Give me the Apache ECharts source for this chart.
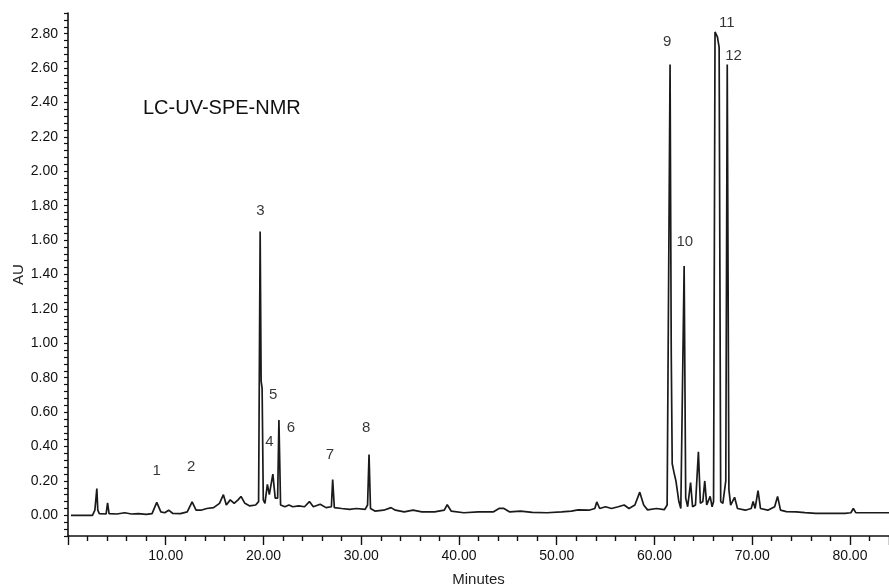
<!DOCTYPE html>
<html>
<head>
    <meta charset="utf-8">
    <title>LC-UV-SPE-NMR</title>
    <script src="https://cdn.jsdelivr.net/npm/echarts@6/dist/echarts.min.js"></script>
    <style>
        html, body { margin: 0; padding: 0; background: #fff; }
        #main { width: 889px; height: 587px; }
    </style>
</head>
<body>
<div id="main"></div>
<script>
    // retention time (min) and absorbance (AU)
    var times = [
        0.3, 2.5, 2.75, 2.9, 2.95, 3.05, 3.2, 3.9, 4.05, 4.2, 5.0, 5.8, 6.5, 7.2, 8.0, 8.6,
        9.08, 9.5, 9.9, 10.3, 10.7, 11.5, 12.2, 12.7, 13.1, 13.6, 14.2, 14.9, 15.5, 15.9,
        16.2, 16.6, 17.0, 17.4, 17.7, 18.1, 18.6, 19.2, 19.5, 19.66, 19.76, 19.86, 19.98,
        20.15, 20.4, 20.6, 20.96, 21.2, 21.45, 21.58, 21.75, 22.2, 22.6, 23.0, 23.6, 24.2,
        24.7, 25.1, 25.8, 26.4, 26.95, 27.08, 27.25, 28.0, 28.8, 29.5, 30.4, 30.65, 30.8,
        30.95, 31.4, 32.3, 33.05, 33.5, 34.4, 35.3, 36.2, 37.5, 38.5, 38.8, 39.2, 40.5,
        42.0, 43.5, 44.1, 44.6, 45.2, 46.3, 47.5, 49.0, 50.5, 51.5, 52.2, 53.3, 53.9, 54.1,
        54.4, 55.0, 55.6, 56.3, 56.9, 57.4, 58.0, 58.5, 58.9, 59.3, 60.2, 61.0, 61.3, 61.6,
        61.72, 61.82, 62.0, 62.2, 62.5, 62.7, 62.85, 63.04, 63.2, 63.4, 63.7, 63.9, 64.2,
        64.5, 64.7, 64.95, 65.15, 65.35, 65.7, 65.9, 66.05, 66.2, 66.45, 66.62, 66.78, 67.0,
        67.3, 67.45, 67.62, 67.8, 68.2, 68.5, 69.3, 69.9, 70.1, 70.3, 70.6, 70.85, 71.6,
        72.3, 72.6, 72.9, 73.5, 74.5, 75.4, 76.5, 78.0, 79.5, 80.1, 80.35, 80.6, 82.0, 84.0
    ];
    var absorbance = [
        0.0, 0.0, 0.03, 0.04, 0.156, 0.03, 0.01, 0.008, 0.072, 0.01, 0.008, 0.015, 0.008, 0.01, 0.006, 0.01,
        0.075, 0.02, 0.015, 0.03, 0.012, 0.01, 0.02, 0.078, 0.03, 0.03, 0.04, 0.045, 0.07, 0.12,
        0.06, 0.09, 0.07, 0.09, 0.11, 0.07, 0.055, 0.06, 0.08, 1.65, 0.78, 0.74, 0.09,
        0.07, 0.18, 0.12, 0.24, 0.1, 0.1, 0.554, 0.06, 0.05, 0.06, 0.05, 0.055, 0.05,
        0.08, 0.05, 0.065, 0.045, 0.05, 0.208, 0.045, 0.04, 0.035, 0.04, 0.035, 0.06, 0.354,
        0.04, 0.025, 0.03, 0.045, 0.03, 0.02, 0.03, 0.02, 0.02, 0.03, 0.062, 0.025, 0.015,
        0.02, 0.02, 0.04, 0.04, 0.02, 0.025, 0.017, 0.015, 0.02, 0.025, 0.032, 0.03, 0.04, 0.078,
        0.04, 0.05, 0.04, 0.05, 0.06, 0.04, 0.06, 0.135, 0.06, 0.032, 0.04, 0.033, 0.06, 2.62,
        0.95, 0.3, 0.25, 0.2, 0.08, 0.04, 0.05, 1.45, 0.1, 0.05, 0.19, 0.05, 0.06,
        0.37, 0.07, 0.08, 0.2, 0.06, 0.11, 0.05, 0.08, 2.81, 2.78, 2.72, 0.08, 0.07,
        0.2, 2.62, 0.15, 0.06, 0.105, 0.04, 0.03, 0.04, 0.08, 0.04, 0.144, 0.04, 0.03,
        0.05, 0.11, 0.03, 0.022, 0.02, 0.016, 0.012, 0.012, 0.012, 0.015, 0.04, 0.016, 0.015, 0.015
    ];

    // peak numbers and where they sit (min, AU)
    var peakNames = ['1', '2', '3', '4', '5', '6', '7', '8', '9', '10', '11', '12'];
    var peakTimes = [9.08, 12.6, 19.7, 20.6, 21.0, 22.8, 26.8, 30.5, 61.3, 63.1, 67.4, 68.1];
    var peakLabelAU = [0.26, 0.28, 1.77, 0.43, 0.70, 0.51, 0.35, 0.51, 2.75, 1.59, 2.86, 2.67];

    var xMin = 0, xMax = 84, xStep = 10;
    var yMin = -0.12, yMax = 2.92, yStep = 0.04, yLabelStep = 0.2;

    var trace = times.map(function (t, i) { return [t, absorbance[i]]; });
    var peaks = peakNames.map(function (n, i) { return {name: n, value: [peakTimes[i], peakLabelAU[i]]}; });

    var fontFamily = 'Liberation Sans, Arial, sans-serif';
    var myChart = echarts.init(document.getElementById('main'));
    myChart.setOption({
        animation: false,
        backgroundColor: '#fff',
        grid: {left: 68, right: 0, top: 13, bottom: 51, containLabel: false, outerBoundsMode: 'none'},
        graphic: [{
            type: 'text',
            left: 143,
            top: 98,
            style: {text: 'LC-UV-SPE-NMR', fontSize: 20, fontFamily: fontFamily, fill: '#111'}
        }],
        xAxis: {
            type: 'value',
            min: xMin,
            max: xMax,
            interval: xStep,
            name: 'Minutes',
            nameLocation: 'middle',
            nameGap: 36,
            nameMoveOverlap: false,
            nameTextStyle: {fontSize: 15, fontFamily: fontFamily, color: '#222'},
            axisLine: {onZero: false, lineStyle: {color: '#111', width: 1.6}},
            axisTick: {length: 9, lineStyle: {color: '#111', width: 1.4}},
            minorTick: {show: true, splitNumber: 5, length: 5, lineStyle: {color: '#111', width: 1.4}},
            splitLine: {show: false},
            axisLabel: {
                margin: 13,
                fontSize: 14,
                fontFamily: fontFamily,
                color: '#111',
                showMaxLabel: false,
                formatter: function (v) { return v === 0 ? '' : v.toFixed(2); }
            }
        },
        yAxis: {
            type: 'value',
            min: yMin,
            max: yMax,
            interval: yStep,
            name: 'AU',
            nameLocation: 'middle',
            nameGap: 42,
            nameMoveOverlap: false,
            nameTextStyle: {fontSize: 15, fontFamily: fontFamily, color: '#222'},
            axisLine: {onZero: false, lineStyle: {color: '#111', width: 1.6}},
            axisTick: {length: 4, lineStyle: {color: '#111', width: 1.2}},
            splitLine: {show: false},
            axisLabel: {
                margin: 10,
                fontSize: 14,
                fontFamily: fontFamily,
                color: '#111',
                formatter: function (v) {
                    var k = v / yLabelStep;
                    if (Math.abs(k - Math.round(k)) > 1e-6) return '';
                    return (Math.round(k) * yLabelStep).toFixed(2);
                }
            }
        },
        series: [
            {
                name: 'UV',
                type: 'line',
                data: trace,
                showSymbol: false,
                sampling: 'none',
                lineStyle: {color: '#1a1a1a', width: 1.7},
                z: 3
            },
            {
                name: 'peaks',
                type: 'scatter',
                data: peaks,
                symbolSize: 1,
                itemStyle: {color: 'rgba(0,0,0,0)'},
                label: {
                    show: true,
                    position: 'inside',
                    formatter: '{b}',
                    fontSize: 15,
                    fontFamily: fontFamily,
                    color: '#000'
                },
                z: 4
            }
        ]
    });
</script>
</body>
</html>
